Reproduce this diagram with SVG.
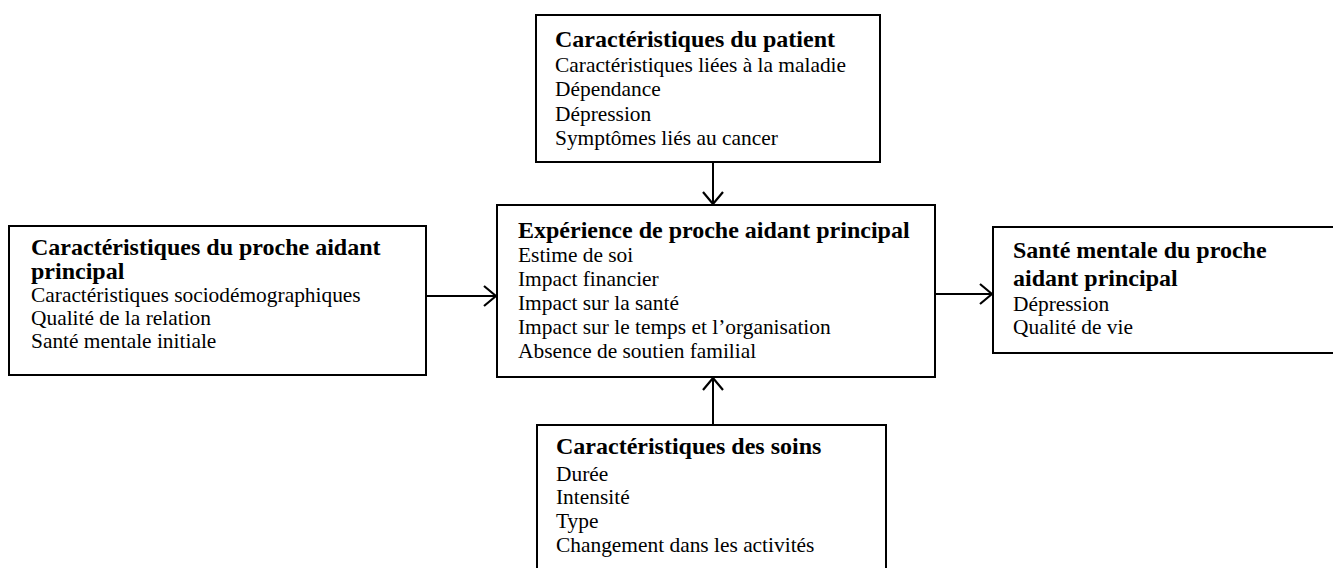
<svg xmlns="http://www.w3.org/2000/svg" width="1333" height="568" viewBox="0 0 1333 568">
<style>
.box{fill:#fff;stroke:#000;stroke-width:2}
text{font-family:"Liberation Serif","Times New Roman",serif;font-size:21.4px;fill:#000}
.t{font-weight:bold;font-size:24px}
.c{stroke:#000;stroke-width:2;fill:none}
</style>
<defs>
<marker id="ah" viewBox="0 0 14 22" refX="13" refY="11" markerWidth="14" markerHeight="22" markerUnits="userSpaceOnUse" orient="auto">
<path d="M1,1 L13,11 L1,21" fill="none" stroke="#000" stroke-width="2.2"/>
</marker>
</defs>
<rect width="1333" height="568" fill="#fff"/>
<g id="patient">
<rect class="box" x="536" y="15" width="344" height="147"/>
<text x="555" y="47" class="t">Caractéristiques du patient</text>
<text x="555" y="72">Caractéristiques liées à la maladie</text>
<text x="555" y="96">Dépendance</text>
<text x="555" y="121">Dépression</text>
<text x="555" y="145">Symptômes liés au cancer</text>
</g>
<g id="aidant">
<rect class="box" x="9" y="226" width="417" height="149"/>
<text x="31" y="255" class="t">Caractéristiques du proche aidant</text>
<text x="31" y="279" class="t">principal</text>
<text x="31" y="302">Caractéristiques sociodémographiques</text>
<text x="31" y="325">Qualité de la relation</text>
<text x="31" y="348">Santé mentale initiale</text>
</g>
<g id="experience">
<rect class="box" x="497" y="205" width="438" height="172"/>
<text x="518" y="238" class="t">Expérience de proche aidant principal</text>
<text x="518" y="262">Estime de soi</text>
<text x="518" y="286">Impact financier</text>
<text x="518" y="310">Impact sur la santé</text>
<text x="518" y="334">Impact sur le temps et l’organisation</text>
<text x="518" y="358">Absence de soutien familial</text>
</g>
<g id="sante">
<rect class="box" x="993" y="227" width="350" height="126"/>
<text x="1013" y="258" class="t">Santé mentale du proche</text>
<text x="1013" y="286" class="t">aidant principal</text>
<text x="1013" y="311">Dépression</text>
<text x="1013" y="334">Qualité de vie</text>
</g>
<g id="soins">
<rect class="box" x="537" y="425" width="349" height="160"/>
<text x="556" y="454" class="t">Caractéristiques des soins</text>
<text x="556" y="481">Durée</text>
<text x="556" y="504">Intensité</text>
<text x="556" y="528">Type</text>
<text x="556" y="552">Changement dans les activités</text>
</g>
<g id="connectors">
<line class="c" x1="713" y1="162" x2="713" y2="204" marker-end="url(#ah)"/>
<line class="c" x1="713" y1="425" x2="713" y2="378" marker-end="url(#ah)"/>
<line class="c" x1="426" y1="296" x2="496" y2="296" marker-end="url(#ah)"/>
<line class="c" x1="935" y1="294" x2="992" y2="294" marker-end="url(#ah)"/>
</g>
</svg>
